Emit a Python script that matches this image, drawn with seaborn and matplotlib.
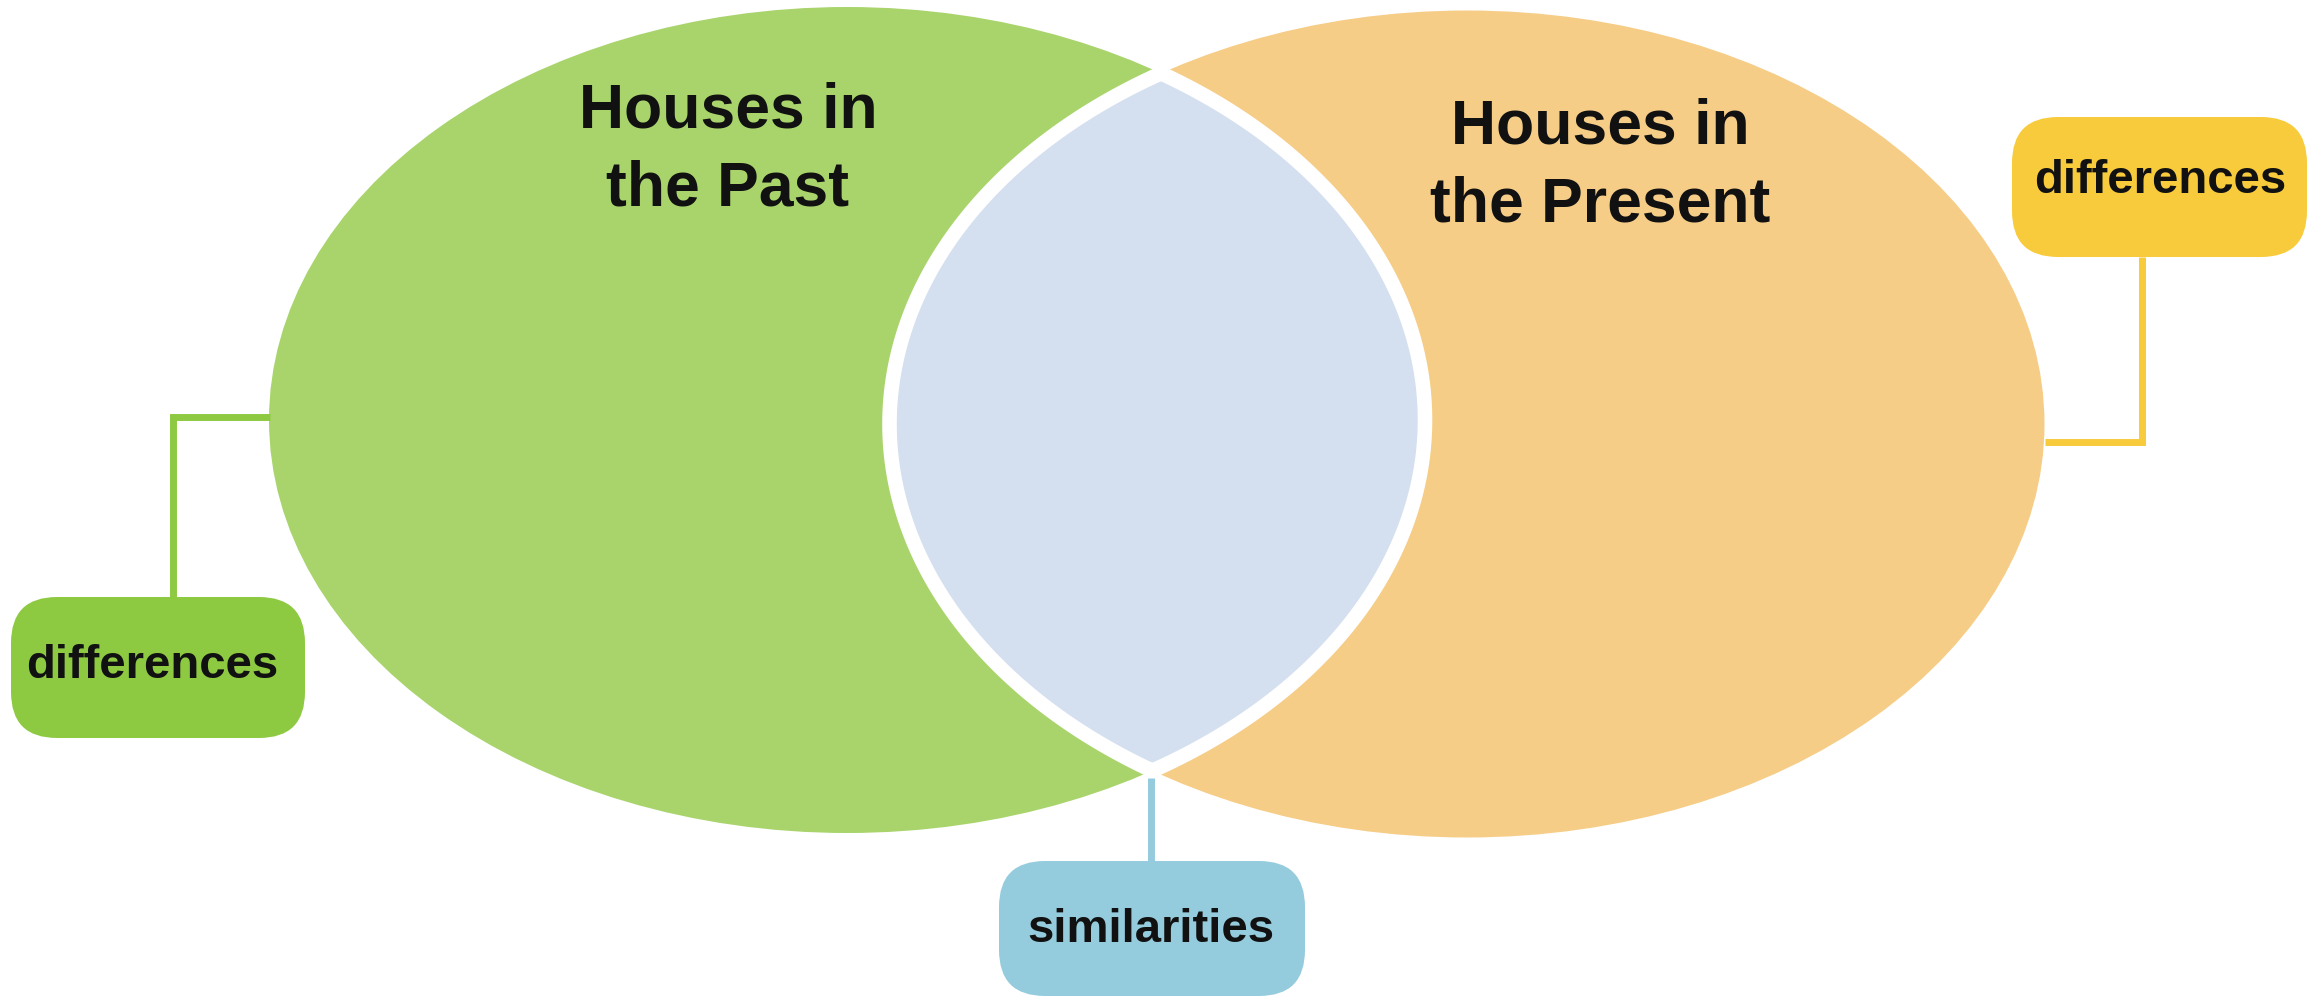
import numpy as np
import matplotlib
matplotlib.use("Agg")
import matplotlib.pyplot as plt
from matplotlib.patches import Ellipse, Polygon, FancyBboxPatch
import seaborn as sns

# the two sets of the diagram
set_titles = [["Houses in", "the Past"], ["Houses in", "the Present"]]
set_colors = ["#A9D46C", "#F6CD87"]
overlap_color = "#D4E0EF"

# the callout boxes
box_labels = ["differences", "differences", "similarities"]
box_colors = ["#8EC942", "#F8CB3D", "#94CBDD"]

W, H = 2315, 996

sns.set_theme(style="white")
plt.rcParams['font.family'] = ['Liberation Sans', 'DejaVu Sans']

fig = plt.figure(figsize=(W / 100, H / 100), dpi=100)
ax = fig.add_axes([0, 0, 1, 1])
ax.set_xlim(0, W)
ax.set_ylim(H, 0)
ax.axis('off')

# layout in pixels: ellipse (cx, cy, width, height)
ellipses = [(847, 420, 1156, 826), (1467, 424, 1155, 827)]
title_pos = [(728, [127, 205]), (1600, [143, 221])]


def ellipse_pts(e, t):
    cx, cy, w, h = e
    return np.column_stack([cx + w / 2 * np.cos(t), cy + h / 2 * np.sin(t)])


def inside(pts, e):
    cx, cy, w, h = e
    return ((pts[:, 0] - cx) / (w / 2)) ** 2 + ((pts[:, 1] - cy) / (h / 2)) ** 2 <= 1


for e, c in zip(ellipses, set_colors):
    ax.add_patch(Ellipse((e[0], e[1]), e[2], e[3], facecolor=c, edgecolor='none'))

# overlap = part of each ellipse lying inside the other
p1 = ellipse_pts(ellipses[0], np.linspace(-np.pi, np.pi, 4000))
p2 = ellipse_pts(ellipses[1], np.linspace(0, 2 * np.pi, 4000))
lens = np.vstack([p1[inside(p1, ellipses[1])], p2[inside(p2, ellipses[0])]])
ax.add_patch(Polygon(lens, closed=True, facecolor=overlap_color, edgecolor='white',
                     lw=10.5, joinstyle='round'))

for lines, (x, ys) in zip(set_titles, title_pos):
    for line, y in zip(lines, ys):
        ax.text(x, y, line, ha='center', va='baseline', fontsize=45,
                fontweight='bold', color='#111111')

# callouts: box (x, y, w, h), label baseline, connector path
boxes = [(11, 597, 294, 141), (2012, 117, 295, 140), (999, 861, 306, 135)]
label_pos = [(152, 678), (2160, 193), (1151, 942)]
connectors = [[(173, 597), (173, 417), (270, 417)],
              [(2142, 257), (2142, 442), (2045, 442)],
              [(1151, 778), (1151, 861)]]

for label, color, (bx, by, bw, bh), (tx, ty), path in zip(box_labels, box_colors, boxes,
                                                          label_pos, connectors):
    xs, ys = zip(*path)
    ax.plot(xs, ys, color=color, lw=5, solid_joinstyle='miter', solid_capstyle='butt')
    ax.add_patch(FancyBboxPatch((bx, by), bw, bh, boxstyle="round,pad=0,rounding_size=46",
                                facecolor=color, edgecolor='none'))
    ax.text(tx, ty, label, ha='center', va='baseline', fontsize=34,
            fontweight='bold', color='#111111')

fig.savefig("out.png", dpi=100, facecolor='white')
